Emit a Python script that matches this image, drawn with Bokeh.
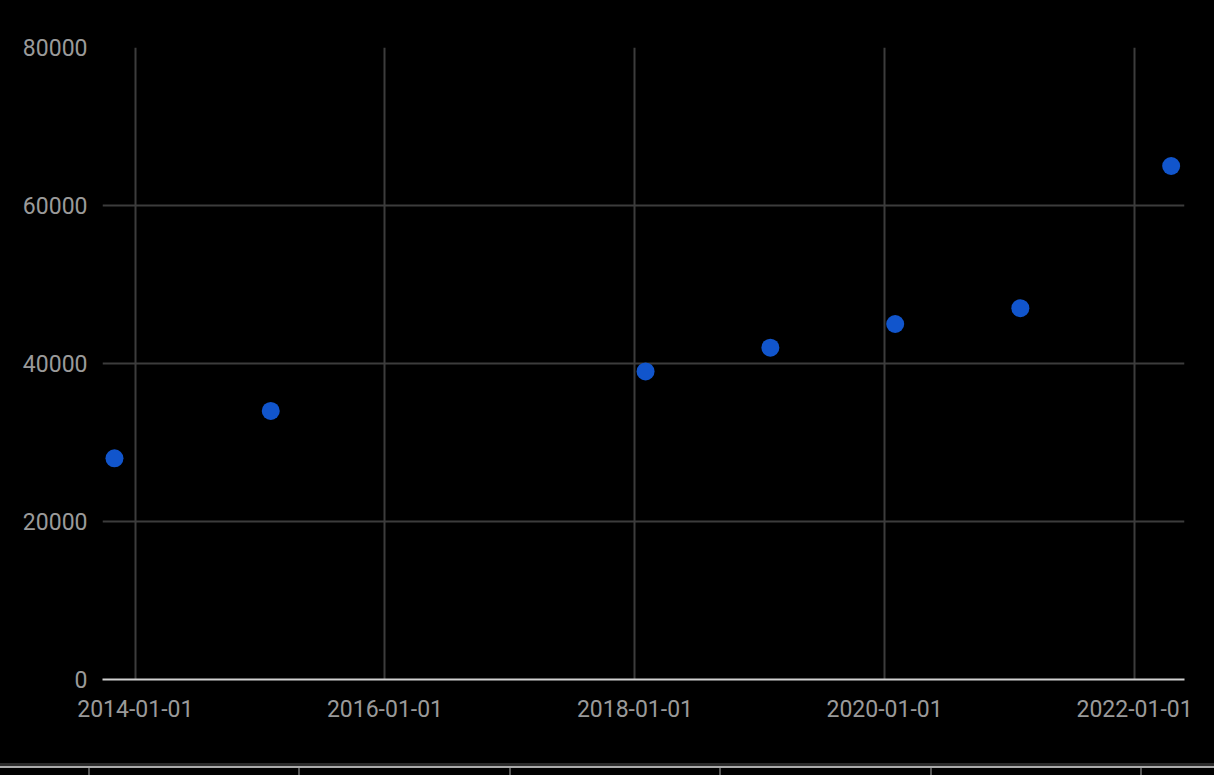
import pandas as pd
from bokeh.plotting import figure
from bokeh.models import Range1d, FixedTicker, DatetimeTickFormatter, ColumnDataSource, Div
from bokeh.layouts import column
from bokeh.embed import file_html
from bokeh.resources import INLINE

# ---- data ----
dates = ["2013-11-01", "2015-02-01", "2018-02-01", "2019-02-01",
         "2020-02-01", "2021-02-01", "2022-04-18"]
values = [28000, 34000, 39000, 42000, 45000, 47000, 65000]
x_tick_labels = ["2014-01-01", "2016-01-01", "2018-01-01", "2020-01-01", "2022-01-01"]
y_ticks = [0, 20000, 40000, 60000, 80000]
x_start, x_end = "2013-09-27", "2022-05-27"

def ms(s):
    return pd.Timestamp(s).value / 1e6

src = ColumnDataSource(dict(date=[pd.Timestamp(d) for d in dates], value=values))

FONT = "Roboto"
LABEL_COLOR = "#9a9a9a"
GRID_COLOR = "#3c3c3c"

p = figure(width=1214, height=763, output_backend="svg", toolbar_location=None,
           x_axis_type="datetime",
           x_range=Range1d(ms(x_start), ms(x_end)),
           y_range=Range1d(0, 80000),
           min_border_left=102, min_border_right=30, min_border_top=47,
           min_border_bottom=84)
p.background_fill_color = "black"
p.border_fill_color = "black"
p.outline_line_color = None

xt = FixedTicker(ticks=[ms(t) for t in x_tick_labels])
yt = FixedTicker(ticks=y_ticks)

p.xaxis.ticker = xt
fmt = "%Y-%m-%d"
p.xaxis.formatter = DatetimeTickFormatter(milliseconds=fmt, seconds=fmt, minsec=fmt,
                                          minutes=fmt, hourmin=fmt, hours=fmt, days=fmt,
                                          months=fmt, years=fmt)
p.yaxis.ticker = yt
p.xgrid.ticker = xt
p.ygrid.ticker = yt
for g in (p.xgrid[0], p.ygrid[0]):
    g.grid_line_color = GRID_COLOR
    g.grid_line_width = 2

for ax in (p.xaxis[0], p.yaxis[0]):
    ax.major_tick_line_color = None
    ax.minor_tick_line_color = None
    ax.major_tick_out = 0
    ax.major_tick_in = 0
    ax.major_label_text_font = FONT
    ax.major_label_text_font_size = "23px"
    ax.major_label_text_color = LABEL_COLOR

p.xaxis.axis_line_color = "#d0d0d0"
p.xaxis.axis_line_width = 2
p.xaxis.major_label_standoff = 20
p.yaxis.axis_line_color = None
p.yaxis.major_label_standoff = 15

p.scatter(x="date", y="value", source=src, size=18, color="#1155cc", line_color=None)

# ---- strip at page bottom (top edge of the next, cut-off element) ----
strip = Div(text="", width=1214, height=12, margin=0,
            styles={
                "box-sizing": "border-box",
                "border-top": "3px solid #2b2b2b",
                "background-color": "#000000",
                "background-image": (
                    "linear-gradient(#aaaaaa, #aaaaaa), "
                    "repeating-linear-gradient(to right, transparent 0px, transparent 88px, "
                    "#555555 88px, #555555 90px, transparent 90px, transparent 210.4px)"
                ),
                "background-size": "100% 2px, 100% 100%",
                "background-repeat": "no-repeat, repeat",
                "background-position": "0 0, 0 0",
            })

layout = column(p, strip, spacing=0)
layout.styles = {"background-color": "#000000"}

html = file_html(layout, INLINE)
html = html.replace("<body>", '<body style="background-color:#000000;">', 1)
open("out.html", "w").write(html)
